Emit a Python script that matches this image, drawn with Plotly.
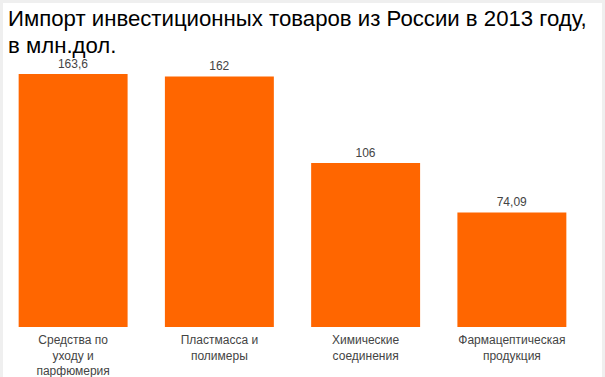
import plotly.graph_objects as go

categories = ["Средства по<br>уходу и<br>парфюмерия", "Пластмасса и<br>полимеры",
              "Химические<br>соединения", "Фармацептическая<br>продукция"]
values = [163.6, 162, 106, 74.09]
value_labels = [str(v).replace(".", ",") for v in values]

title_line1 = "Импорт инвестиционных товаров из России в 2013 году,"
title_line2 = "в млн.дол."

W, H = 605, 377
L, R, T, B = 0, 20, 49, 50
pw = W - L - R
ph = H - T - B

def px_x(x):
    return (x - L) / pw

def px_y(y):
    return (H - B - y) / ph

fig = go.Figure(go.Bar(
    x=categories, y=values, text=value_labels, textposition="outside",
    marker=dict(color="#ff6600", line=dict(width=0)),
    textfont=dict(family="Liberation Sans, Arial", size=12, color="#444444"),
    cliponaxis=False,
))

fig.add_shape(type="rect", xref="paper", yref="paper",
              x0=px_x(3), x1=px_x(602), y0=px_y(380), y1=px_y(3),
              fillcolor="white", line=dict(width=0), layer="below")

fig.add_annotation(text=title_line1, xref="paper", yref="paper",
                   x=px_x(6), y=px_y(4), xanchor="left", yanchor="top",
                   showarrow=False,
                   font=dict(family="Liberation Sans, Arial", size=22.2, color="#000000"))
fig.add_annotation(text=title_line2, xref="paper", yref="paper",
                   x=px_x(6), y=px_y(31), xanchor="left", yanchor="top",
                   showarrow=False,
                   font=dict(family="Liberation Sans, Arial", size=22.2, color="#000000"))

fig.update_layout(
    width=W, height=H,
    margin=dict(l=L, r=R, t=T, b=B, pad=0),
    paper_bgcolor="#efefef", plot_bgcolor="rgba(0,0,0,0)",
    bargap=0.255, showlegend=False,
    font=dict(family="Liberation Sans, Arial", size=12, color="#444444"),
    xaxis=dict(showgrid=False, showline=False, zeroline=False, ticks="",
               ticklabelstandoff=4, automargin=False,
               tickfont=dict(size=12, color="#444444")),
    yaxis=dict(range=[0, ph / 1.5465], visible=False, showgrid=False, zeroline=False),
)

fig.write_html("out.html", config={"displayModeBar": False},
               post_script="document.body.style.margin='0';document.body.style.overflow='hidden';")
